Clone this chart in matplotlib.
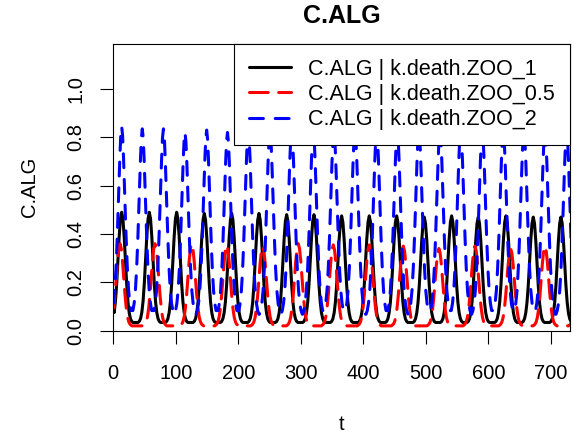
import matplotlib
matplotlib.use('Agg')
import matplotlib.pyplot as plt

plt.rcParams['font.family'] = ['Liberation Sans', 'DejaVu Sans']
plt.rcParams['lines.scale_dashes'] = False

T_END = 730
START_LEVEL = 0.12   # all three runs start from the same algae level

# ── k.death.ZOO = 1 (black) ──
k1_peak_t = [13.4, 57.6, 101.4, 145.6, 189.4, 233.1, 277.4, 321.1, 365.4, 409.6,
             453.4, 497.6, 541.4, 584.0, 628.3, 672.0, 716.3]
k1_peak_y = [0.49, 0.49, 0.49, 0.485, 0.485, 0.485, 0.48, 0.48, 0.475, 0.475,
             0.475, 0.47, 0.475, 0.47, 0.475, 0.47, 0.47]
k1_trough = 0.034
k1_dt = [-22, -18, -16, -14, -12, -10, -8, -6, -4, -2, 0,
         2, 4, 6, 8, 10, 12, 14, 16, 18, 22]
k1_frac = [0, 0, .01, .035, .09, .19, .35, .56, .78, .94, 1,
           .94, .78, .56, .35, .19, .09, .035, .01, 0, 0]

# ── k.death.ZOO = 0.5 (red) ──
k05_peak_t = [10.7, 66.7, 125.4, 181.4, 239.0, 296.0, 352.0, 409.6, 464.0,
              521.0, 578.7, 635.8, 690.7, 747.5]
k05_peak_y = [0.36, 0.36, 0.36, 0.355, 0.35, 0.36, 0.355, 0.355, 0.35,
              0.34, 0.35, 0.34, 0.35, 0.35]
k05_trough = 0.02
k05_dt = [-28, -19, -16, -14, -12, -10, -8, -6, -4, -2, 0,
          2, 4, 6, 8, 10, 12, 14, 16, 19, 28]
k05_frac = [0, 0, .02, .05, .11, .22, .38, .58, .79, .94, 1,
            .94, .79, .58, .38, .22, .11, .05, .02, 0, 0]

# ── k.death.ZOO = 2 (blue) ──
k2_peak_t = [13.4, 46.4, 80.2, 114.7, 149.4, 182.7, 216.0, 250.7, 285.4, 320.0,
             353.0, 386.7, 421.4, 454.4, 489.0, 522.7, 555.8, 590.4, 624.0,
             657.1, 690.7, 725.4]
k2_peak_y = [0.845, 0.835, 0.835, 0.82, 0.83, 0.82, 0.83, 0.83, 0.83, 0.83,
             0.83, 0.83, 0.83, 0.83, 0.83, 0.83, 0.83, 0.83, 0.83,
             0.83, 0.83, 0.83]
k2_trough = 0.068
k2_dt = [-17, -15, -13, -11, -9, -7, -5, -3, -1.5, 0,
         1.5, 3, 5, 7, 9, 11, 13, 15, 17]
k2_frac = [0, .02, .06, .13, .25, .42, .62, .83, .95, 1,
           .95, .83, .62, .42, .25, .13, .06, .02, 0]

labels = ['C.ALG | k.death.ZOO_1', 'C.ALG | k.death.ZOO_0.5', 'C.ALG | k.death.ZOO_2']


def build_series(peak_t, peak_y, trough, dt, frac):
    # place the measured cycle profile at each measured peak
    ts, ys = [0.0], [START_LEVEL]
    n = len(peak_t)
    for i, (tp, yp) in enumerate(zip(peak_t, peak_y)):
        lo = 0.0 if i == 0 else (peak_t[i - 1] + tp) / 2
        hi = tp + dt[-1] if i == n - 1 else (tp + peak_t[i + 1]) / 2
        for d, f in zip(dt, frac):
            t = tp + d
            if lo < t <= hi:
                ts.append(t)
                ys.append(trough + (yp - trough) * f)
    return ts, ys


t1, y1 = build_series(k1_peak_t, k1_peak_y, k1_trough, k1_dt, k1_frac)
t05, y05 = build_series(k05_peak_t, k05_peak_y, k05_trough, k05_dt, k05_frac)
t2, y2 = build_series(k2_peak_t, k2_peak_y, k2_trough, k2_dt, k2_frac)

W, H = 574, 438
fig = plt.figure(figsize=(W / 100, H / 100), dpi=100)
L, R, T, B = 113.3, 569.5, 44, 330.7
ax = fig.add_axes([L / W, 1 - B / H, (R - L) / W, (B - T) / H])

lw = 2.2
ax.plot(t1, y1, color='black', lw=lw, solid_capstyle='round', solid_joinstyle='round',
        label=labels[0])
ax.plot(t05, y05, color='#ff0000', lw=lw, dashes=(13.5, 7.5), dash_capstyle='round',
        dash_joinstyle='round', label=labels[1])
ax.plot(t2, y2, color='#0000ff', lw=lw, dashes=(10, 8.5), dash_capstyle='round',
        dash_joinstyle='round', label=labels[2])

ax.set_xlim(0, T_END)
ax.set_ylim(0, 1.186)
ax.set_xticks(range(0, 701, 100))
ax.set_yticks([0, 0.2, 0.4, 0.6, 0.8, 1.0])
ax.set_yticklabels(['0.0', '0.2', '0.4', '0.6', '0.8', '1.0'], rotation=90, va='center')
ax.tick_params(direction='out', length=9.4, width=0.8, labelsize=14.5)
ax.tick_params(axis='x', pad=14.5)
ax.tick_params(axis='y', pad=10.5)
for s in ax.spines.values():
    s.set_linewidth(0.8)

fig.text((L + R) / 2 / W, 1 - 16 / H, 'C.ALG', ha='center', va='center',
         fontsize=18, fontweight='bold')
fig.text((L + R) / 2 / W, 1 - 424 / H, 't', ha='center', va='center', fontsize=14.5)
fig.text(30 / W, 1 - 187 / H, 'C.ALG', ha='center', va='center', rotation=90,
         fontsize=14.5)

leg = ax.legend(loc='upper right', bbox_to_anchor=(1, 1), borderaxespad=0,
                fontsize=15.5, frameon=True, fancybox=False, framealpha=1,
                edgecolor='black', handlelength=1.95, handletextpad=0.8,
                borderpad=0.68, labelspacing=0.2)
leg.get_frame().set_linewidth(0.8)

fig.savefig('out.png', dpi=100, facecolor='white')
